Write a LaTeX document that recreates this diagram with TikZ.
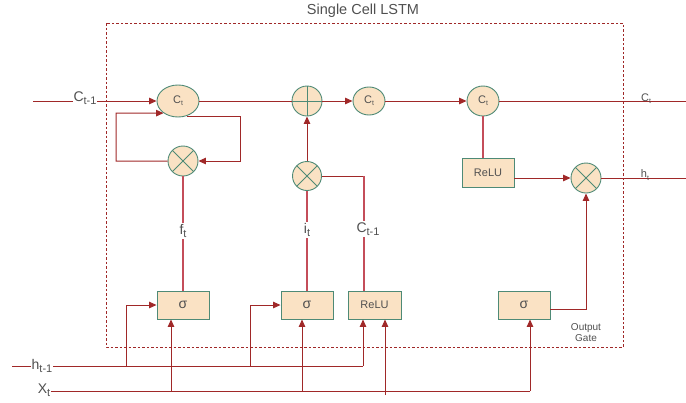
\documentclass[tikz,border=0pt]{standalone}
\usepackage{fontspec}
\setmainfont{Liberation Sans}
\usetikzlibrary{arrows.meta,shapes.geometric,calc}
\definecolor{ln}{RGB}{160,40,40}
\definecolor{lnl}{RGB}{196,78,90}
\definecolor{bd}{RGB}{78,138,118}
\definecolor{fl}{RGB}{250,226,196}
\definecolor{txt}{RGB}{80,80,80}
\newcommand{\lsub}[1]{\raisebox{-0.45ex}{\fontsize{11}{11}\selectfont #1}}
\newcommand{\ssub}[1]{\raisebox{-0.4ex}{\fontsize{7}{7}\selectfont #1}}
\begin{document}
\begin{tikzpicture}[x=1pt,y=-1pt,
  ell/.style={ellipse, draw=bd, fill=fl, line width=0.9pt, inner sep=0pt, text=txt, font=\fontsize{11}{11}\selectfont},
  circ/.style={circle, draw=bd, fill=fl, line width=0.9pt, minimum size=30pt, inner sep=0pt},
  times/.style={circ, path picture={\draw[bd, line width=0.9pt] (path picture bounding box.north west) -- (path picture bounding box.south east) (path picture bounding box.north east) -- (path picture bounding box.south west);}},
  plusc/.style={circ, path picture={\draw[bd, line width=0.9pt] (path picture bounding box.north) -- (path picture bounding box.south) (path picture bounding box.west) -- (path picture bounding box.east);}},
  gatebox/.style={rectangle, draw=bd, fill=fl, line width=0.9pt, minimum width=52pt, minimum height=28pt, inner sep=0pt, text=txt, font=\fontsize{11}{11}\selectfont},
  arr/.style={ln, line width=1pt, -{Triangle[length=7.5pt,width=6.5pt]}},
  wire/.style={ln, line width=1pt},
  pale/.style={lnl, line width=1.1pt},
  lbl/.style={fill=white, inner sep=1pt, text=txt, font=\fontsize{14}{14}\selectfont},
  olbl/.style={inner sep=0pt, text=txt, font=\fontsize{10}{11}\selectfont}
]
\useasboundingbox (0,0) rectangle (686,402);

% frame and title
\draw[ln, line width=0.7pt, dash pattern=on 2.5pt off 2pt] (106,23) rectangle (623,347);
\node[text=txt, font=\fontsize{14.5}{14.5}\selectfont] (title) at (363,11) {Single Cell LSTM};

% nodes
\node[ell, minimum width=42pt, minimum height=32pt] (Ct1) at (178,101) {C\ssub{t}};
\node[plusc] (plus) at (307,101) {};
\node[ell, minimum width=32pt, minimum height=28pt] (Ct2) at (369,101) {C\ssub{t}};
\node[ell, minimum width=32pt, minimum height=30pt] (Ct3) at (483,101) {C\ssub{t}};
\node[times] (m1) at (183,161) {};
\node[times, minimum size=29pt] (m2) at (307,176) {};
\node[times] (m3) at (586,178) {};
\node[gatebox, font=\fontsize{14}{14}\selectfont] (s1) at (183,305) {σ};
\node[gatebox, font=\fontsize{14}{14}\selectfont] (s2) at (307,305) {σ};
\node[gatebox, minimum width=53pt] (r2) at (374.5,305) {ReLU};
\node[gatebox, minimum height=29pt] (r3) at (488,172.5) {ReLU};
\node[gatebox, font=\fontsize{14}{14}\selectfont] (s3) at (524,305) {σ};

% free ends
\coordinate (cin) at (33,101);
\coordinate (cout) at (686,101);
\coordinate (hout) at (686,178);
\coordinate (lr) at (240,161);
\coordinate (ll) at (116,113);
\coordinate (hin) at (12,366);
\coordinate (hend) at (363,366);
\coordinate (hb1) at (126,366);
\coordinate (hb2) at (250,366);
\coordinate (xb1) at (171,391);
\coordinate (xb2) at (302,391);
\coordinate (xb3) at (385,395);
\coordinate (xend) at (530,391);
\coordinate (rj) at (364,176);

% cell state line
\draw[arr] (cin) -- (Ct1);
\node[lbl] (lcin) at (85,98) {C\lsub{t-1}};
\draw[wire] (Ct1) -- (plus);
\draw[arr] (plus) -- (Ct2);
\draw[arr] (Ct2) -- (Ct3);
\draw[wire] (Ct3) -- (cout);
\node[olbl, font=\fontsize{11}{11}\selectfont] (lcout) at (646,99) {C\ssub{t}};

% forget loop
\draw[arr] (Ct1.-60) -| (lr) -- (m1.east);
\draw[arr] (m1.west) -| (ll) -- (Ct1.-140);
\draw[pale] (m1.south) -- (s1.north);
\node[lbl] (lf) at (183,231) {f\lsub{t}};

% input gate
\draw[arr] (m2.north) -- (plus.south);
\draw[pale] (m2.south) -- (s2.north);
\node[lbl] (li) at (307,230) {i\lsub{t}};
\draw[wire] (m2.east) -- (rj);
\draw[pale] (rj) -- (rj |- r2.north);
\node[lbl] (lc) at (368,229) {C\lsub{t-1}};

% output path
\draw[pale] (Ct3.south) -- (Ct3.south |- r3.north);
\draw[arr] (r3.east |- m3.west) -- (m3.west);
\draw[wire] (m3.east) -- (hout);
\node[olbl, font=\fontsize{11}{11}\selectfont] (lhout) at (645,175) {h\ssub{t}};
\draw[arr] ([yshift=-4pt]s3.east) -| (m3.south);
\node[olbl, align=center] (og) at (586,333) {Output\\Gate};

% h_{t-1} line
\draw[wire] (hin) -- (hend);
\node[lbl] (lh) at (42,366) {h\lsub{t-1}};
\draw[arr] (hb1) |- (s1.west);
\draw[arr] (hb2) |- (s2.west);
\draw[arr] (hend) -- (hend |- r2.south);

% X_t line
\node[lbl] (lx) at (44,390) {X\lsub{t}};
\draw[wire] (lx.east |- xend) -- (xend);
\draw[arr] (xb1) -- (xb1 |- s1.south);
\draw[arr] (xb2) -- (xb2 |- s2.south);
\draw[arr] (xb3) -- (xb3 |- r2.south);
\draw[arr] (xend) -- (xend |- s3.south);
\end{tikzpicture}
\end{document}
